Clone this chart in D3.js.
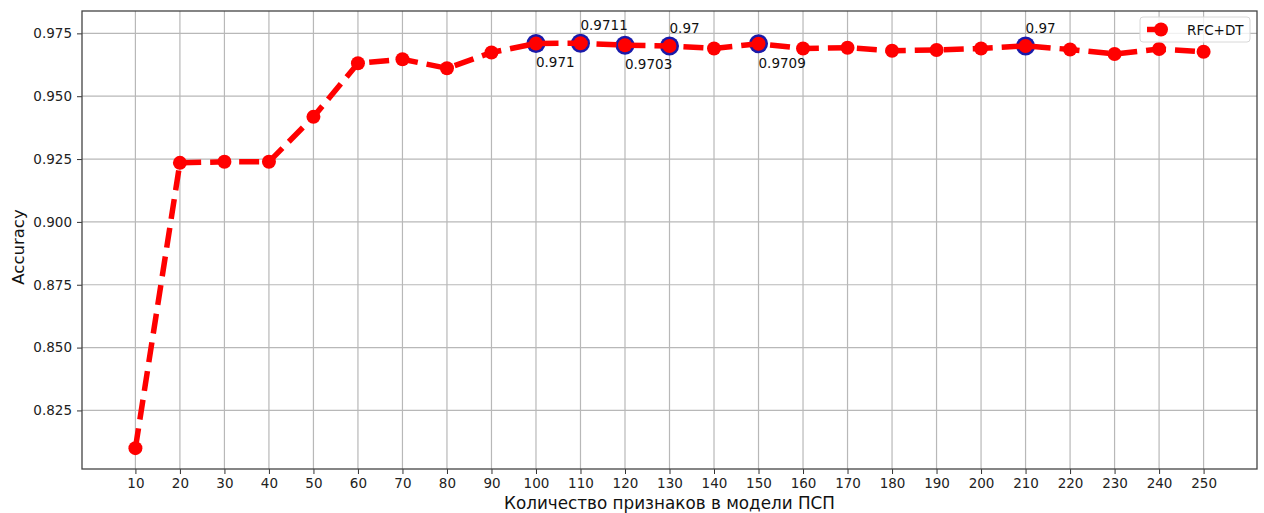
<!DOCTYPE html>
<html>
<head>
<meta charset="utf-8">
<script src="https://cdn.jsdelivr.net/npm/d3@7"></script>
<style>
  body { margin: 0; background: #fff; }
  svg { font-family: "DejaVu Sans", sans-serif; }
</style>
</head>
<body>
<div class="chart"></div>
<script>
// number of features
const features = [10, 20, 30, 40, 50, 60, 70, 80, 90, 100, 110, 120, 130, 140, 150,
                  160, 170, 180, 190, 200, 210, 220, 230, 240, 250];
// accuracy, RFC+DT
const accuracy = [0.8100, 0.9235, 0.9239, 0.9239, 0.9418, 0.9631, 0.9647, 0.9611, 0.9674,
                  0.9710, 0.9711, 0.9703, 0.9700, 0.9690, 0.9709,
                  0.9690, 0.9693, 0.9681, 0.9684, 0.9690, 0.9700, 0.9686, 0.9668, 0.9688, 0.9677];
// highlighted points with labels
const bestX = [100, 110, 120, 130, 150, 210];
const bestLabels = ["0.971", "0.9711", "0.9703", "0.97", "0.9709", "0.97"];
const bestSide = ["below", "above", "below", "above", "below", "above"];

const yTicks = [0.825, 0.850, 0.875, 0.900, 0.925, 0.950, 0.975];
const seriesName = "RFC+DT";

const w = 1264, h = 513;
const mLeft = 82, mRight = 1257, mTop = 11, mBottom = 469;

const svg = d3.select(".chart").append("svg")
  .attr("width", w).attr("height", h);

const x = d3.scaleLinear().domain([-2, 262]).range([mLeft, mRight]);
const y = d3.scaleLinear().domain([0.8017, 0.9839]).range([mBottom, mTop]);

// grid
svg.append("g").selectAll("line").data(features).enter().append("line")
  .attr("x1", d => x(d)).attr("x2", d => x(d))
  .attr("y1", mTop).attr("y2", mBottom)
  .attr("stroke", "#b8b8b8").attr("stroke-width", 1.2);
svg.append("g").selectAll("line").data(yTicks).enter().append("line")
  .attr("x1", mLeft).attr("x2", mRight)
  .attr("y1", d => y(d)).attr("y2", d => y(d))
  .attr("stroke", "#b8b8b8").attr("stroke-width", 1.2);

// axes
const xAxis = svg.append("g").attr("transform", `translate(0,${mBottom})`)
  .call(d3.axisBottom(x).tickValues(features).tickFormat(d3.format("d")).tickSize(5).tickPadding(4));
const yAxis = svg.append("g").attr("transform", `translate(${mLeft},0)`)
  .call(d3.axisLeft(y).tickValues(yTicks).tickFormat(d3.format(".3f")).tickSize(5).tickPadding(5));
[xAxis, yAxis].forEach(a => {
  a.select(".domain").remove();
  a.selectAll("line").attr("stroke", "#333").attr("stroke-width", 1);
  a.selectAll("text").attr("font-size", 13.5).attr("fill", "#222")
    .attr("font-family", "DejaVu Sans");
});

// frame
svg.append("rect").attr("x", mLeft).attr("y", mTop)
  .attr("width", mRight - mLeft).attr("height", mBottom - mTop)
  .attr("fill", "none").attr("stroke", "#444").attr("stroke-width", 1.3);

// blue highlight circles
const best = bestX.map((f, i) => ({ f: f, v: accuracy[features.indexOf(f)], label: bestLabels[i], side: bestSide[i] }));
svg.append("g").selectAll("circle").data(best).enter().append("circle")
  .attr("cx", d => x(d.f)).attr("cy", d => y(d.v)).attr("r", 9.5)
  .attr("fill", "#1a1aaa");

// line
const line = d3.line().x((d, i) => x(features[i])).y(d => y(d));
svg.append("path").datum(accuracy)
  .attr("d", line)
  .attr("fill", "none").attr("stroke", "#ff0000").attr("stroke-width", 5.5)
  .attr("stroke-dasharray", "20,9");

svg.append("g").selectAll("circle").data(accuracy).enter().append("circle")
  .attr("cx", (d, i) => x(features[i])).attr("cy", d => y(d)).attr("r", 7)
  .attr("fill", "#ff0000");

// annotations
svg.append("g").selectAll("text").data(best).enter().append("text")
  .attr("x", d => x(d.f))
  .attr("y", d => y(d.v) + (d.side === "above" ? -13 : 24))
  .attr("font-size", 13.5).attr("fill", "#111")
  .text(d => d.label);

// axis labels
svg.append("text").attr("x", (mLeft + mRight) / 2).attr("y", 509)
  .attr("text-anchor", "middle").attr("font-size", 16.8).attr("fill", "#111")
  .text("Количество признаков в модели ПСП");
svg.append("text")
  .attr("transform", `translate(24,${(mTop + mBottom) / 2 + 7}) rotate(-90)`)
  .attr("text-anchor", "middle").attr("font-size", 16.5).attr("fill", "#111")
  .text("Accuracy");

// legend
const lg = svg.append("g");
lg.append("rect").attr("x", 1140).attr("y", 17).attr("width", 110).attr("height", 25)
  .attr("rx", 3).attr("fill", "#fff").attr("fill-opacity", 0.8)
  .attr("stroke", "#d8d8d8").attr("stroke-width", 1);
lg.append("line").attr("x1", 1147).attr("x2", 1167).attr("y1", 29.5).attr("y2", 29.5)
  .attr("stroke", "#ff0000").attr("stroke-width", 5.5);
lg.append("circle").attr("cx", 1161).attr("cy", 29.5).attr("r", 7).attr("fill", "#ff0000");
lg.append("text").attr("x", 1187).attr("y", 34.5).attr("font-size", 13.5).attr("fill", "#111")
  .text(seriesName);
</script>
</body>
</html>
